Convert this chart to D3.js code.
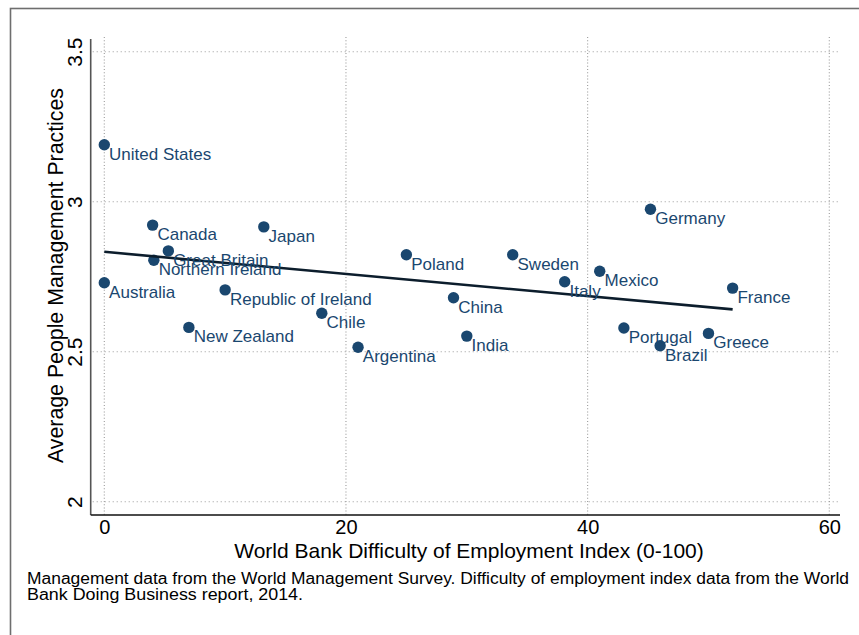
<!DOCTYPE html>
<html>
<head>
<meta charset="utf-8">
<script src="https://cdn.jsdelivr.net/npm/d3@7"></script>
<style>
  body { margin: 0; background: #fff; }
  text { font-family: "Liberation Sans", Arial, Helvetica, sans-serif; }
</style>
</head>
<body>
<script>
// Data
const countries = ["United States", "Canada", "Great Britain", "Northern Ireland", "Australia",
  "Japan", "Republic of Ireland", "New Zealand", "Chile", "Argentina", "Poland", "China",
  "India", "Sweden", "Italy", "Mexico", "Germany", "Portugal", "Brazil", "Greece", "France"];
const difficulty = [0, 4, 5.3, 4.1, 0, 13.2, 10, 7, 18, 21, 25, 28.9, 30, 33.8, 38.1, 41, 45.2, 43, 46, 50, 52];
const mgmt = [3.19, 2.922, 2.836, 2.805, 2.73, 2.916, 2.706, 2.581, 2.628, 2.515, 2.823, 2.68,
  2.552, 2.823, 2.733, 2.768, 2.975, 2.579, 2.52, 2.561, 2.712];

// fitted line end points
const fitX = [0, 52];
const fitY = [2.833, 2.641];

const xTicks = [0, 20, 40, 60];
const yTicks = [2, 2.5, 3, 3.5];
const yTickLabels = ["2", "2.5", "3", "3.5"];

const xTitle = "World Bank Difficulty of Employment Index (0-100)";
const yTitle = "Average People Management Practices";
const note = ["Management data from the World Management Survey. Difficulty of employment index data from the World",
  "Bank Doing Business report, 2014."];

const data = countries.map((c, i) => ({name: c, x: difficulty[i], y: mgmt[i]}));

const outerWidth = 859, outerHeight = 635;
const navy = "#1a476f";

const svg = d3.select("body").append("svg")
    .attr("width", outerWidth)
    .attr("height", outerHeight);

// outer frame (runs off the page to the right and bottom)
svg.append("rect")
    .attr("x", 10.5).attr("y", 8.5)
    .attr("width", 1000).attr("height", 1000)
    .attr("fill", "none")
    .attr("stroke", "#6e6e6e")
    .attr("stroke-width", 1.6);

// plot region
const plot = {left: 90.7, right: 840, top: 37, bottom: 515};

const xScale = d3.scaleLinear().domain([0, 60]).range([104.3, 829.3]);
const yScale = d3.scaleLinear().domain([2, 3.5]).range([501.7, 51.7]);

// grid
svg.append("g").selectAll("line")
    .data(yTicks)
    .join("line")
    .attr("x1", plot.left + 2).attr("x2", plot.right - 1)
    .attr("y1", d => yScale(d)).attr("y2", d => yScale(d))
    .attr("stroke", "#9a9a9a")
    .attr("stroke-width", 1.1)
    .attr("stroke-dasharray", "1,3");

svg.append("g").selectAll("line")
    .data(xTicks)
    .join("line")
    .attr("x1", d => xScale(d)).attr("x2", d => xScale(d))
    .attr("y1", plot.top).attr("y2", plot.bottom)
    .attr("stroke", "#9a9a9a")
    .attr("stroke-width", 1.1)
    .attr("stroke-dasharray", "1,2.2");

// axes
const xAxis = d3.axisBottom(xScale).tickValues(xTicks).tickSize(0).tickPadding(5);
const gx = svg.append("g")
    .attr("transform", "translate(0," + plot.bottom + ")")
    .call(xAxis);
gx.select(".domain").remove();
gx.selectAll("text")
    .attr("font-size", 20)
    .attr("font-family", "Liberation Sans, Arial, sans-serif")
    .attr("fill", "#000");

const yAxis = d3.axisLeft(yScale).tickValues(yTicks).tickSize(0)
    .tickFormat((d, i) => yTickLabels[i]);
const gy = svg.append("g")
    .attr("transform", "translate(" + plot.left + ",0)")
    .call(yAxis);
gy.select(".domain").remove();
gy.selectAll("text")
    .attr("x", 0).attr("y", 0).attr("dy", 0)
    .attr("text-anchor", "middle")
    .attr("transform", "translate(-9,0) rotate(-90)")
    .attr("font-size", 21)
    .attr("font-family", "Liberation Sans, Arial, sans-serif")
    .attr("fill", "#000");

// axis lines
svg.append("line")
    .attr("x1", plot.left).attr("x2", plot.left)
    .attr("y1", plot.top + 2).attr("y2", plot.bottom)
    .attr("stroke", "#555").attr("stroke-width", 1.6);
svg.append("line")
    .attr("x1", plot.left).attr("x2", plot.right)
    .attr("y1", plot.bottom).attr("y2", plot.bottom)
    .attr("stroke", "#111").attr("stroke-width", 1.6);

// points
svg.append("g").selectAll(".dot")
    .data(data)
    .join("circle")
    .attr("class", "dot")
    .attr("cx", d => xScale(d.x))
    .attr("cy", d => yScale(d.y))
    .attr("r", 5.7)
    .attr("fill", navy);

// fitted line
svg.append("line")
    .attr("x1", xScale(fitX[0])).attr("y1", yScale(fitY[0]))
    .attr("x2", xScale(fitX[1])).attr("y2", yScale(fitY[1]))
    .attr("stroke", "#0c1d2c")
    .attr("stroke-width", 2.6);

// point labels (placed at 4 o'clock)
svg.append("g").selectAll(".lbl")
    .data(data)
    .join("text")
    .attr("class", "lbl")
    .attr("x", d => xScale(d.x) + 4.8)
    .attr("y", d => yScale(d.y) + 15)
    .attr("font-size", 17)
    .attr("fill", navy)
    .text(d => d.name);

// titles
svg.append("text")
    .attr("x", 469).attr("y", 558)
    .attr("text-anchor", "middle")
    .attr("font-size", 21)
    .text(xTitle);

svg.append("text")
    .attr("transform", "translate(62.5,275.5) rotate(-90)")
    .attr("text-anchor", "middle")
    .attr("font-size", 21.5)
    .attr("textLength", 375)
    .attr("lengthAdjust", "spacingAndGlyphs")
    .text(yTitle);

// note
svg.append("text")
    .attr("x", 27).attr("y", 583.5)
    .attr("font-size", 16)
    .attr("textLength", 822)
    .attr("lengthAdjust", "spacingAndGlyphs")
    .text(note[0]);
svg.append("text")
    .attr("x", 27).attr("y", 599.5)
    .attr("font-size", 16)
    .attr("textLength", 276)
    .attr("lengthAdjust", "spacingAndGlyphs")
    .text(note[1]);
</script>
</body>
</html>
